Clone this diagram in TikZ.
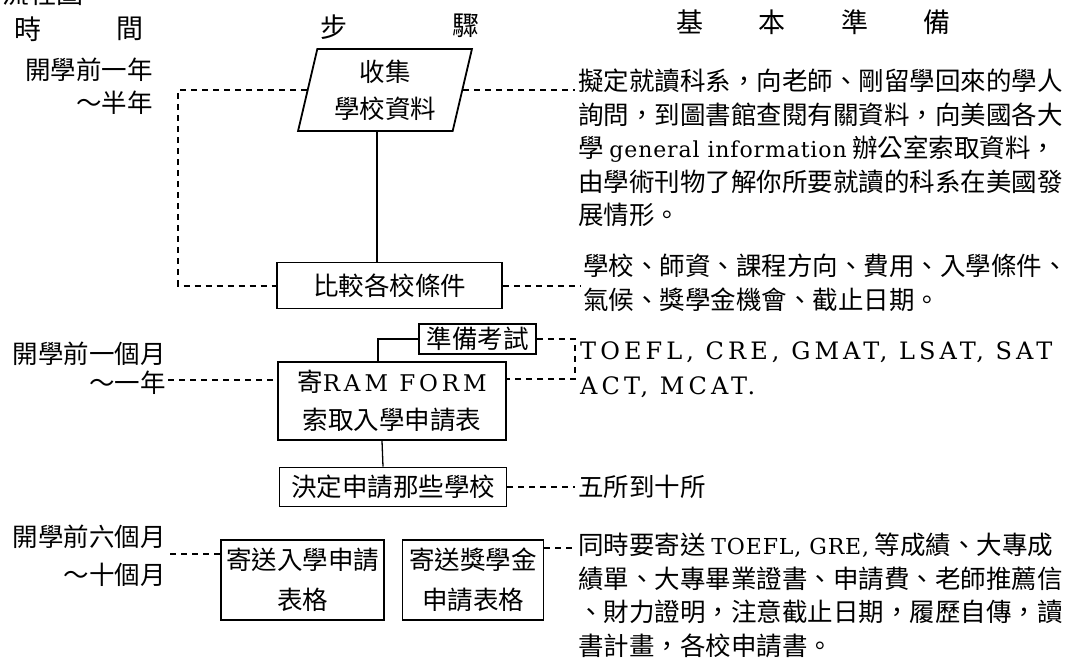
\documentclass[tikz,border=0pt]{standalone}
\usepackage{fontspec}
\setmainfont{Noto Sans CJK TC}
\newfontfamily\latin[LetterSpace=4]{DejaVu Serif}
\newfontfamily\latcap[LetterSpace=17]{DejaVu Serif}
\usetikzlibrary{shapes.geometric,positioning}

\newcommand\bodyfont{\fontsize{25.5}{33.5}\selectfont}
\newcommand\headfont{\fontsize{27}{30}\selectfont}
\newcommand\latsm[1]{{\fontsize{22}{33.5}\selectfont\latin #1}}
\newcommand\latcp[1]{{\fontsize{23}{33.5}\selectfont\latcap #1}}

\begin{document}
\begin{tikzpicture}[
  x=1pt, y=-1pt,
  hd/.style={font=\headfont, inner sep=0pt},
  body/.style={font=\bodyfont, align=left, inner sep=3pt, anchor=north west},
  timelbl/.style={font=\bodyfont, align=right, inner sep=0pt, anchor=north east},
  stepbox/.style={draw, line width=1.8pt, font=\bodyfont, align=center, inner sep=3pt},
  dsh/.style={line width=2pt, dash pattern=on 6pt off 5pt},
  link/.style={line width=1.3pt},
]
  \useasboundingbox (0,0) rectangle (1070,671);

  % Title (cut at the top edge)
  \node[hd, anchor=east] (title) at (84,-7) {流程圖};

  % Column heads
  \node[hd] (h1) at (28,29) {時};
  \node[hd] (h2) at (130,29) {間};
  \node[hd] (h3) at (334,27) {步};
  \node[hd] (h4) at (466,26) {驟};
  \node[hd] (h5) at (690,22) {基};
  \node[hd] (h6) at (772,22) {本};
  \node[hd] (h7) at (855,22) {準};
  \node[hd] (h8) at (937,22) {備};

  % Time column
  \node[timelbl, font=\fontsize{25.5}{33}\selectfont] (t1) at (153,58) {開學前一年\\～半年};
  \node[timelbl, font=\fontsize{25.5}{29}\selectfont] (t2) at (166,342) {開學前一個月\\～一年};
  \node[timelbl, font=\fontsize{25.5}{38}\selectfont] (t3) at (166,525) {開學前六個月\\～十個月};

  % Steps
  \node[stepbox, trapezium, trapezium left angle=77, trapezium right angle=103,
        trapezium stretches=true, minimum width=174pt, minimum height=82pt,
        font=\fontsize{25.5}{37}\selectfont] (b1) at (385,90) {收集\\學校資料};
  \node[stepbox, minimum width=225pt, minimum height=46pt] (b2) at (389.5,285.5) {比較各校條件};
  \node[stepbox, minimum width=117pt, minimum height=30pt] (prep) at (477.5,339) {準備考試};
  \node[stepbox, minimum width=228pt, minimum height=78pt,
        font=\fontsize{25.5}{38}\selectfont] (b3) at (392,401) {寄\latcp{RAM\ FORM}\\索取入學申請表};
  \node[stepbox, minimum width=227pt, minimum height=39pt] (b4) at (393,487) {決定申請那些學校};
  \node[stepbox, minimum width=163pt, minimum height=80pt,
        font=\fontsize{25.5}{40}\selectfont] (b5) at (302.5,580) {寄送入學申請\\表格};
  \node[stepbox, minimum width=141pt, minimum height=80pt,
        font=\fontsize{25.5}{40}\selectfont] (b6) at (473,580) {寄送獎學金\\申請表格};

  % Basic preparation texts
  \node[body] (p1) at (575,66) {擬定就讀科系，向老師、剛留學回來的學人\\
    詢問，到圖書館查閱有關資料，向美國各大\\
    學 \latsm{general information} 辦公室索取資料，\\
    由學術刊物了解你所要就讀的科系在美國發\\
    展情形。};
  \node[body] (p2) at (580,251) {學校、師資、課程方向、費用、入學條件、\\
    氣候、獎學金機會、截止日期。};
  \node[body, font=\fontsize{24}{35}\selectfont\latcap] (p3) at (577,338) {TOEFL, CRE, GMAT, LSAT, SAT\\
    ACT, MCAT.};
  \node[body, anchor=west] (p4) at (575,487) {五所到十所};
  \node[body] (p5) at (575,530) {同時要寄送 \latsm{TOEFL, GRE,} 等成績、大專成\\
    績單、大專畢業證書、申請費、老師推薦信\\
    、財力證明，注意截止日期，履歷自傳，讀\\
    書計畫，各校申請書。};

  % Helper points
  \coordinate (brkL) at (178,0);
  \coordinate (brkR) at (575,379);
  \coordinate (t2end) at (168,380);
  \coordinate (t3end) at (170,554);
  \coordinate (b6out) at (0,548);

  % Solid step links
  \draw[link] ([xshift=-8pt]b1.south) -- ([xshift=-8pt]b1.south |- b2.north);
  \draw[link] (prep.west) -| ([xshift=-14pt]b3.north);
  \draw[link] ([xshift=-10pt]b3.south) -- ([xshift=-10pt]b4.north);

  % Dashed links
  \draw[dsh] (b1.west) -- (brkL |- b1.west) -- (brkL |- b2.west) -- (b2.west);
  \draw[dsh] (b1.east) -- (b1.east -| p1.west);
  \draw[dsh] (b2.east) -- (b2.east -| p2.west);
  \draw[dsh] (prep.east) -| (brkR) -- (b3.east |- brkR);
  \draw[dsh] (t2end) -- (b3.west |- t2end);
  \draw[dsh] (b4.east) -- (b4.east -| p4.west);
  \draw[dsh] (t3end) -- (b5.west |- t3end);
  \draw[dsh] (b6.east |- b6out) -- (b6out -| p5.west);
\end{tikzpicture}
\end{document}
